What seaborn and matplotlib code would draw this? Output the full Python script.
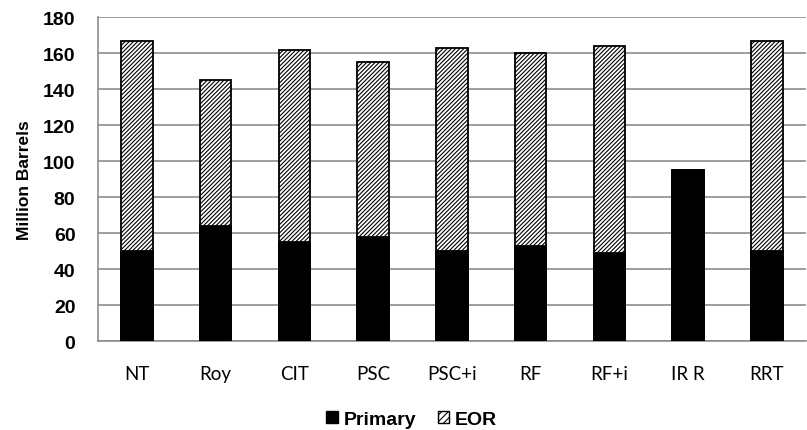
import matplotlib
matplotlib.use("Agg")
import matplotlib.pyplot as plt
import seaborn as sns
import pandas as pd
from matplotlib.patches import Patch

categories = ["NT", "Roy", "CIT", "PSC", "PSC+i", "RF", "RF+i", "IR R", "RRT"]
primary = [50, 64, 55, 58, 50, 53, 49, 95, 50]
eor = [117, 81, 107, 97, 113, 107, 115, 0, 117]

sns.set_theme(style="white")
plt.rcParams["font.family"] = ["Liberation Sans", "DejaVu Sans"]
plt.rcParams["hatch.linewidth"] = 0.8
plt.rcParams["hatch.color"] = "black"
plt.rcParams["text.color"] = "black"
plt.rcParams["axes.labelcolor"] = "black"

df = pd.DataFrame({"cat": categories, "Primary": primary, "EOR": eor})
df["total"] = df["Primary"] + df["EOR"]

fig, ax = plt.subplots(figsize=(8.07, 4.31), dpi=100)
fig.subplots_adjust(left=0.121, right=0.999, top=0.958, bottom=0.206)

# EOR stacked on top of primary: draw totals hatched, then primary solid over them
sns.barplot(data=df, x="cat", y="total", color="white", width=0.4,
            edgecolor="black", linewidth=1.3, ax=ax, zorder=2)
for p in ax.patches:
    p.set_hatch("////////")
n = len(ax.patches)
sns.barplot(data=df, x="cat", y="Primary", color="black", width=0.4,
            edgecolor="black", linewidth=1.3, ax=ax, zorder=3)
for p in ax.patches[n:]:
    p.set_facecolor("black")

ax.set_ylim(0, 180)
ax.set_yticks(range(0, 181, 20))
ax.set_xlim(-0.5, len(categories) - 0.5)
ax.yaxis.grid(True, color="#8c8c8c", linewidth=1.2, zorder=0)
ax.set_axisbelow(True)
for s in ["top", "right"]:
    ax.spines[s].set_visible(False)
for s in ["left", "bottom"]:
    ax.spines[s].set_color("#8c8c8c")
    ax.spines[s].set_linewidth(1.2)

ax.set_xticks(range(len(categories)))
ax.set_xticklabels(categories, fontsize=13.5, family=["Lato", "DejaVu Sans"])
ax.tick_params(axis="x", length=0, pad=17, labelcolor="black")
# category separators on the x axis
ax.set_xticks([i + 0.5 for i in range(-1, len(categories))], minor=True)
ax.tick_params(axis="x", which="minor", length=6, color="#8c8c8c", width=1.2, direction="out")
ax.tick_params(axis="y", length=6, color="#8c8c8c", width=1.2, labelsize=14, pad=10,
               labelcolor="black")
for t in ax.get_yticklabels():
    t.set_fontweight("bold")

ax.set_xlabel("")
ax.set_ylabel("Million Barrels", fontsize=12.5, fontweight="bold", labelpad=8, color="black")

handles = [Patch(facecolor="black", edgecolor="black", label="Primary"),
           Patch(facecolor="white", edgecolor="black", hatch="/////", label="EOR")]
fig.legend(handles=handles, loc="lower center", bbox_to_anchor=(0.51, -0.035),
           ncol=2, frameon=False, handlelength=0.6, handleheight=0.6,
           handletextpad=0.3, columnspacing=1.1, labelcolor="black",
           prop={"weight": "bold", "size": 14})

fig.savefig("out.png", dpi=100)
